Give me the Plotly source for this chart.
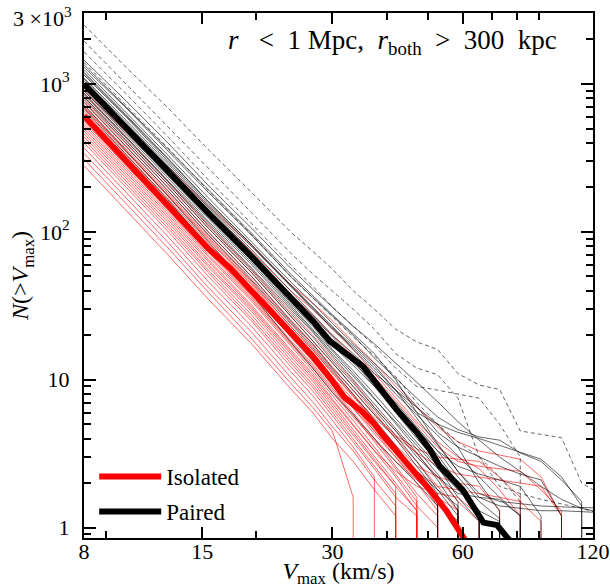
import math
import plotly.graph_objects as go

# ---------------- data ----------------
V_GRID = [8, 10, 12.5, 15.5, 19.5, 24, 27, 30, 33.5, 37.5, 42, 47, 52.5, 58.5,
          65.5, 73, 81.5, 91, 101.5, 113, 120]

# isolated hosts (thin red); each list starts at V=8 and ends at the last non-zero value
ISOLATED_N = [
    [980, 520, 275, 150, 80, 44, 33, 25, 18, 13, 9.0, 6.5, 4.8, 3.8, 3.3, 3.1, 2.9, 2.2, 1.2],
    [900, 475, 250, 133, 70, 38, 27.5, 20, 14.5, 10.5, 7.2, 5.0, 3.5, 2.8, 2.6, 2.5, 2.4, 1.8, 1.3],
    [860, 440, 220, 112, 56, 29, 20, 14, 9.8, 6.5, 4.5, 3.1, 2.2, 1.5, 1.1],
    [820, 415, 210, 106, 53, 27, 18.5, 13, 9.0, 6.0, 4.0, 2.8, 1.9, 1.3],
    [780, 395, 200, 100, 50, 25.5, 17.5, 12.2, 8.5, 5.8, 4.2, 3.4, 3.0, 2.9, 2.8, 2.2, 1.6],
    [750, 380, 190, 96, 48, 24.5, 17, 11.8, 8.0, 5.3, 3.5, 2.3, 1.5],
    [720, 365, 183, 92, 46, 23, 16, 11, 7.7, 5.2, 3.6, 2.6, 2.2, 2.0, 1.9, 1.3],
    [690, 350, 175, 88, 44, 22, 15.2, 10.5, 7.3, 4.9, 3.3, 2.2, 1.4],
    [660, 335, 168, 84, 42, 21, 14.5, 10, 6.8, 4.5, 3.0, 2.0, 1.3],
    [640, 325, 162, 81, 40, 20, 13.8, 9.5, 6.5, 4.3, 3.0, 2.1, 1.5, 1.1],
    [620, 312, 156, 78, 39, 19.5, 13.3, 9.2, 6.4, 4.5, 3.2, 2.4, 1.9, 1.8, 1.7, 1.6, 1.5, 1.1],
    [600, 300, 150, 75, 37, 18.5, 12.8, 8.8, 6.0, 4.0, 2.6, 1.7, 1.2],
    [580, 292, 146, 73, 36, 18, 12.4, 8.5, 5.8, 3.8, 2.5, 1.6],
    [560, 282, 141, 70, 35, 17.5, 12, 8.2, 5.6, 3.9, 2.8, 2.1, 1.6, 1.3],
    [540, 272, 136, 68, 34, 17, 11.5, 7.8, 5.3, 3.5, 2.3, 1.5],
    [520, 262, 131, 65, 32, 16, 11, 7.4, 5.0, 3.3, 2.2, 1.4, 1.0],
    [500, 252, 126, 63, 31, 15.5, 10.6, 7.2, 4.9, 3.3, 2.4, 1.9, 1.7, 1.6, 1.2],
    [480, 242, 121, 60, 30, 15, 10.2, 6.9, 4.6, 3.0, 2.0, 1.3],
    [460, 232, 116, 58, 29, 14.3, 9.8, 6.6, 4.4, 2.9, 1.9],
    [440, 222, 111, 55, 27.5, 13.6, 9.3, 6.3, 4.2, 2.8, 1.9, 1.3],
    [420, 212, 106, 53, 26, 13, 8.9, 6.0, 4.0, 2.6, 1.7],
    [400, 202, 101, 50, 25, 12.3, 8.4, 5.7, 3.8, 2.5, 1.6, 1.2],
    [370, 186, 93, 46, 23, 11.4, 7.8, 5.3, 3.5, 2.2],
    [340, 171, 85, 42, 21, 10.4, 7.1, 4.8, 3.3, 2.1, 1.4],
    [310, 156, 78, 39, 19, 9.5, 6.5, 4.5, 1.6],
    [280, 141, 70, 35, 17.5, 8.7, 6.0, 4.0, 2.8, 1.8, 1.2],
    [950, 500, 265, 140, 74, 40, 30, 22, 16, 11, 7.5, 5.2, 3.8, 3.0, 2.5, 1.8, 1.2],
    [700, 355, 178, 90, 45, 23, 16, 11.2, 7.8, 5.5, 4.1, 3.2, 2.6, 2.3, 2.2, 2.1, 2.0, 1.9, 1.2],
]

# paired hosts (thin grey, solid)
PAIRED_N = [
    [1450, 770, 400, 206, 106, 57, 41, 31, 23, 17.5, 13, 9.6, 7.1, 5.2, 3.9, 3.0, 2.4, 1.9, 1.55, 1.35, 1.3],
    [1300, 690, 352, 185, 95, 50, 36, 27, 20, 14, 10.2, 7.5, 5.6, 4.6, 4.1, 3.9, 3.2, 2.8, 2.1, 1.5],
    [1250, 640, 330, 170, 86, 46, 33, 24, 17.5, 13, 9.5, 6.6, 4.4, 3.5, 3.0, 2.6, 2.3, 2.1, 1.2],
    [1200, 620, 315, 160, 82, 44, 31, 23, 16, 11.5, 8.0, 5.8, 4.2, 3.1, 2.2, 1.6, 1.2],
    [1150, 600, 300, 155, 80, 43, 31, 22, 16.5, 12, 8.5, 6.5, 5.0, 3.5, 2.0, 1.3],
    [1100, 570, 290, 150, 76, 40, 28, 20, 15, 11, 8.5, 6.0, 3.7, 2.4, 1.6, 1.4, 1.35, 1.3, 1.3, 1.28, 1.27],
    [1080, 550, 280, 145, 73, 38, 27, 19.5, 14, 10, 7.0, 4.8, 3.3, 2.2, 1.5, 1.15],
    [1050, 540, 275, 140, 70, 36, 25, 18, 13, 9.5, 6.5, 4.5, 3.1, 2.0, 1.2],
    [1000, 510, 262, 135, 68, 36, 25.5, 18.5, 13.5, 9.0, 6.0, 4.0, 2.8, 1.9, 1.3],
    [980, 500, 255, 130, 66, 35, 24, 17, 12.5, 9.0, 6.5, 4.6, 3.3, 2.6, 2.3, 2.1, 1.9, 1.2],
    [950, 485, 250, 128, 64, 33, 23, 16, 11.5, 8.0, 5.5, 3.8, 2.6, 1.6, 1.1],
    [920, 470, 240, 123, 62, 32, 22, 15.5, 11, 7.5, 5.0, 3.4, 2.3, 1.5],
    [900, 455, 232, 118, 60, 31, 21.5, 15, 10.5, 7.4, 5.2, 3.6, 2.5, 1.8, 1.3, 1.1],
    [870, 440, 225, 115, 57, 30, 21, 14.5, 10, 6.8, 4.6, 3.2, 2.1, 1.3],
    [850, 430, 218, 110, 55, 28, 19.5, 13.5, 9.5, 6.5, 4.5, 3.0, 2.2, 1.7, 1.6, 1.55, 1.2],
    [820, 415, 210, 106, 53, 27, 18.5, 13, 9.0, 6.3, 4.2, 2.8, 1.8, 1.2],
    [800, 400, 200, 100, 50, 25, 17.5, 12, 8.5, 5.8, 4.0, 2.6, 1.7],
    [760, 380, 190, 95, 47, 24, 16.5, 11.5, 8.0, 5.4, 3.6, 2.3, 1.5, 1.1],
    [720, 355, 175, 86, 41, 20, 13.5, 9.5, 6.8, 4.8, 3.3, 2.4, 1.8, 1.4],
    [680, 335, 165, 80, 38, 18, 12, 8.2, 5.8, 4.0, 2.8, 2.0, 1.4],
    [1350, 700, 360, 190, 98, 52, 37, 27.5, 20.5, 15, 10, 6.0, 5.0, 4.4, 4.0, 3.6, 3.2, 2.9, 2.2, 1.4],
    [1180, 610, 310, 160, 82, 43, 30, 22.5, 17, 12.5, 8.5, 5.5, 3.6, 2.4, 1.7, 1.5, 1.45, 1.4, 1.38, 1.37, 1.36],
]

# paired hosts drawn dashed
DASHED_N = [
    [2500, 1300, 690, 360, 185, 100, 74, 56, 40, 30, 22, 18, 16, 11, 9.2, 8.6, 4.5, 4.25, 4.05, 2.0, 1.8],
    [1950, 1000, 520, 270, 135, 72, 52, 40, 30, 22, 15, 12, 10.8, 7.5, 3.0, 1.9, 1.7, 1.55, 1.45, 1.35, 1.28],
    [1650, 860, 440, 225, 114, 60, 43, 31, 23, 17, 12, 9.0, 8.5, 8.0, 7.5, 5.0, 3.0],
    [1400, 720, 370, 190, 96, 50, 36, 26.5, 19.5, 14.5, 10.5, 7.0, 5.0, 3.8, 3.0, 2.2, 1.5],
]

# averages (thick lines)
ISO_MEAN_V = [8, 10, 12.5, 13.8, 15.5, 17.4, 19.5, 24, 25.6, 27, 29.6, 32, 35.3, 37.5,
              40.1, 45.4, 50.4, 55, 58.5, 62]
ISO_MEAN_N = [608, 301, 149, 109, 77, 57, 40, 20.5, 17, 14.5, 10.3, 7.6, 6.0, 5.0,
              3.9, 2.6, 1.8, 1.3, 1.0, 0.75]
PAIR_MEAN_V = [8, 10, 12.5, 15.5, 19.5, 24, 27, 29.6, 30.7, 35.3, 42.2, 47, 50.4, 53.1,
               60, 67, 72, 77.5]
PAIR_MEAN_N = [1000, 505, 258, 134, 68, 36.5, 25, 18.2, 16.8, 12.3, 6.3, 4.4, 3.36, 2.6,
               1.8, 1.08, 1.04, 0.8]

X_TICKS = [8, 15, 30, 60, 120]
X_TICKTEXT = ["8", "15", "30", "60", "120"]
X_MINOR = [9, 20, 40, 50, 70, 80, 90]
Y_TICKS = [1, 10, 100, 1000, 3000]
Y_TICKTEXT = ["1", "10", "10<sup>2</sup>", "10<sup>3</sup>", ""]
Y_TOP_LABEL = "3 ×10<sup>3</sup>"
Y_MINOR = [0.9, 2, 3, 4, 5, 6, 7, 8, 9, 20, 30, 40, 50, 60, 70, 80, 90,
           200, 300, 400, 500, 600, 700, 800, 900, 2000]

X_RANGE = [8, 120]
Y_RANGE = [0.85, 3000]
ZERO_N = 1e-3  # cumulative count dropping to zero (drawn as a drop below the axis)

FONT = "Liberation Serif"


def curve(nvals):
    n = len(nvals)
    xs = list(V_GRID[:n])
    ys = list(nvals)
    if n < len(V_GRID):
        xs.append(V_GRID[n - 1])
        ys.append(ZERO_N)
    return xs, ys


fig = go.Figure()

for nv in ISOLATED_N:
    xs, ys = curve(nv)
    fig.add_trace(go.Scatter(x=xs, y=ys, mode="lines", showlegend=False, hoverinfo="skip",
                             line=dict(color="rgba(255,0,0,0.6)", width=1)))
for nv in PAIRED_N:
    xs, ys = curve(nv)
    fig.add_trace(go.Scatter(x=xs, y=ys, mode="lines", showlegend=False, hoverinfo="skip",
                             line=dict(color="rgba(0,0,0,0.6)", width=1)))
for nv in DASHED_N:
    xs, ys = curve(nv)
    fig.add_trace(go.Scatter(x=xs, y=ys, mode="lines", showlegend=False, hoverinfo="skip",
                             line=dict(color="rgba(0,0,0,0.6)", width=1, dash="4px,3px")))

fig.add_trace(go.Scatter(x=ISO_MEAN_V, y=ISO_MEAN_N, mode="lines", name="Isolated",
                         legendgroup="iso", line=dict(color="#ff0000", width=6)))
fig.add_trace(go.Scatter(x=PAIR_MEAN_V, y=PAIR_MEAN_N, mode="lines", name="Paired",
                         legendgroup="pair", line=dict(color="#000000", width=6)))

axis_common = dict(
    type="log", showline=True, linecolor="black", linewidth=2, mirror="allticks",
    ticks="inside", tickwidth=2, tickcolor="black", showgrid=False, zeroline=False,
    automargin=False, ticklabeloverflow="allow",
    tickfont=dict(family=FONT, size=22, color="black"),
)

fig.update_xaxes(
    **axis_common,
    range=[math.log10(X_RANGE[0]), math.log10(X_RANGE[1])],
    tickmode="array", tickvals=X_TICKS, ticktext=X_TICKTEXT, ticklen=11,
    ticklabelstandoff=-7,
    minor=dict(tickmode="array", tickvals=X_MINOR, ticks="inside", ticklen=7,
               tickwidth=2, tickcolor="black", showgrid=False),
    title=dict(text="<i>V</i><sub>max</sub> (km/s)", font=dict(family=FONT, size=24, color="black"),
               standoff=9),
)
fig.update_yaxes(
    **axis_common,
    range=[math.log10(Y_RANGE[0]), math.log10(Y_RANGE[1]) + 0.003],
    tickmode="array", tickvals=Y_TICKS, ticktext=Y_TICKTEXT, ticklen=12,
    ticklabelstandoff=8,
    minor=dict(tickmode="array", tickvals=Y_MINOR, ticks="inside", ticklen=7,
               tickwidth=2, tickcolor="black", showgrid=False),
    title=dict(text="<i>N</i>(&gt;<i>V</i><sub>max</sub>)", font=dict(family=FONT, size=24, color="black"),
               standoff=4),
)

# label of the top (3000) tick, nudged down so it stays inside the picture
fig.add_annotation(
    xref="paper", yref="y", x=0, y=math.log10(Y_TICKS[-1]), xanchor="right", yanchor="middle",
    xshift=-10, yshift=-4, text=Y_TOP_LABEL, showarrow=False,
    font=dict(family=FONT, size=22, color="black"),
)

fig.add_annotation(
    xref="paper", yref="paper", x=0.607, y=0.945, xanchor="center", yanchor="middle",
    text="<i>r</i>&nbsp;&nbsp; &lt;&nbsp; 1 Mpc,&nbsp; <i>r</i><sub>both</sub>&nbsp; &gt;&nbsp; 300&nbsp; kpc",
    showarrow=False,
    font=dict(family=FONT, size=27, color="black"),
)

fig.update_layout(
    width=610, height=588,
    margin=dict(l=84, r=17, t=13, b=50),
    paper_bgcolor="white", plot_bgcolor="white",
    font=dict(family=FONT, size=22, color="black"),
    legend=dict(x=0.02, y=0.158, xanchor="left", yanchor="top", bgcolor="rgba(0,0,0,0)",
                font=dict(family=FONT, size=23), tracegroupgap=2, itemwidth=62),
)

fig.write_html("out.html")
